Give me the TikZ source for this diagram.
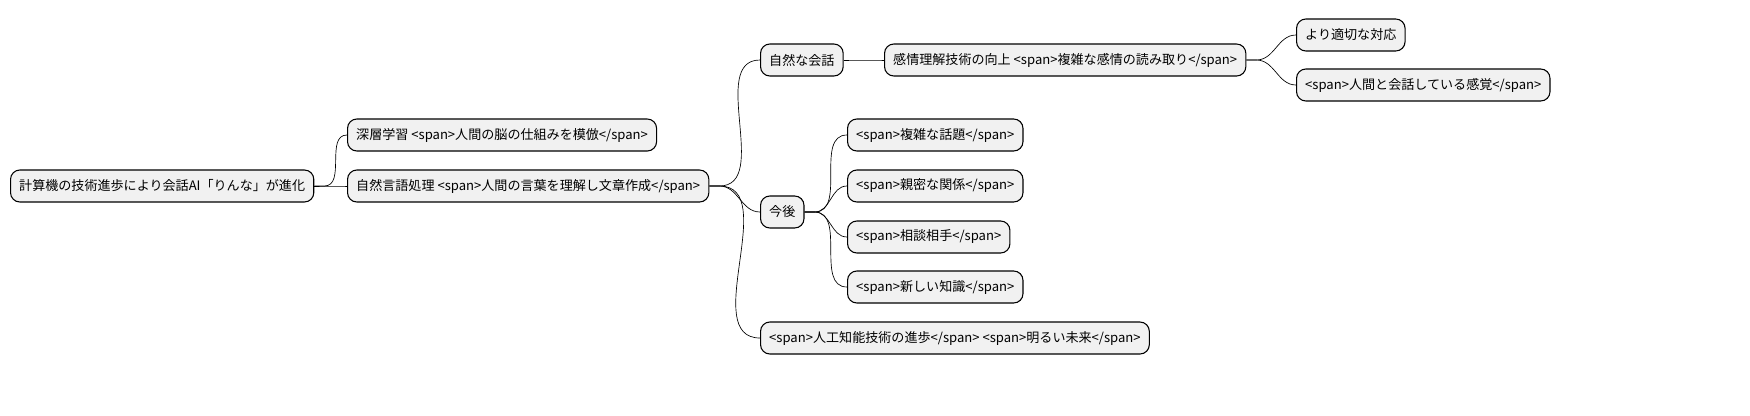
\documentclass[tikz,border=0pt]{standalone}
\usepackage{fontspec}
\setmainfont{Noto Sans CJK JP}
\usetikzlibrary{positioning}

\tikzset{
  topic/.style={draw, line width=0.8pt, rounded corners=7pt, fill={rgb,255:red,241;green,241;blue,241},
    anchor=west, inner xsep=6.5pt, minimum height=24pt, font=\fontsize{9.8}{12}\selectfont},
  branch/.style={line width=0.5pt}
}

\begin{document}
\begin{tikzpicture}[x=0.75pt,y=0.75pt,yscale=-1,xscale=1]

% Root
\node[topic] (root) at (10,186) {計算機の技術進歩により会話AI「りんな」が進化};
% Level 1
\node[topic] (deep) at (347,135) {深層学習 <span>人間の脳の仕組みを模倣</span>};
\node[topic] (nlp) at (347,186) {自然言語処理 <span>人間の言葉を理解し文章作成</span>};
% Level 2
\node[topic] (talk) at (760,60) {自然な会話};
\node[topic] (future) at (760,212) {今後};
\node[topic] (bright) at (760,338) {<span>人工知能技術の進歩</span> <span>明るい未来</span>};
% Level 3
\node[topic] (emo) at (884,60) {感情理解技術の向上 <span>複雑な感情の読み取り</span>};
\node[topic] (topic) at (847,135) {<span>複雑な話題</span>};
\node[topic] (close) at (847,186) {<span>親密な関係</span>};
\node[topic] (advice) at (847,237) {<span>相談相手</span>};
\node[topic] (know) at (847,287) {<span>新しい知識</span>};
% Level 4
\node[topic] (apt) at (1296,35) {より適切な対応};
\node[topic] (human) at (1296,85) {<span>人間と会話している感覚</span>};

% Connectors
\foreach \p/\c in {root/deep, root/nlp, nlp/talk, nlp/future, nlp/bright,
  talk/emo, future/topic, future/close, future/advice, future/know,
  emo/apt, emo/human}
  \draw[branch] (\p.east) -- ++(10,0) to[out=0,in=180] (\c.west);

\pgfresetboundingbox
\path[use as bounding box] (0,0) rectangle (1750,415);
\end{tikzpicture}
\end{document}
